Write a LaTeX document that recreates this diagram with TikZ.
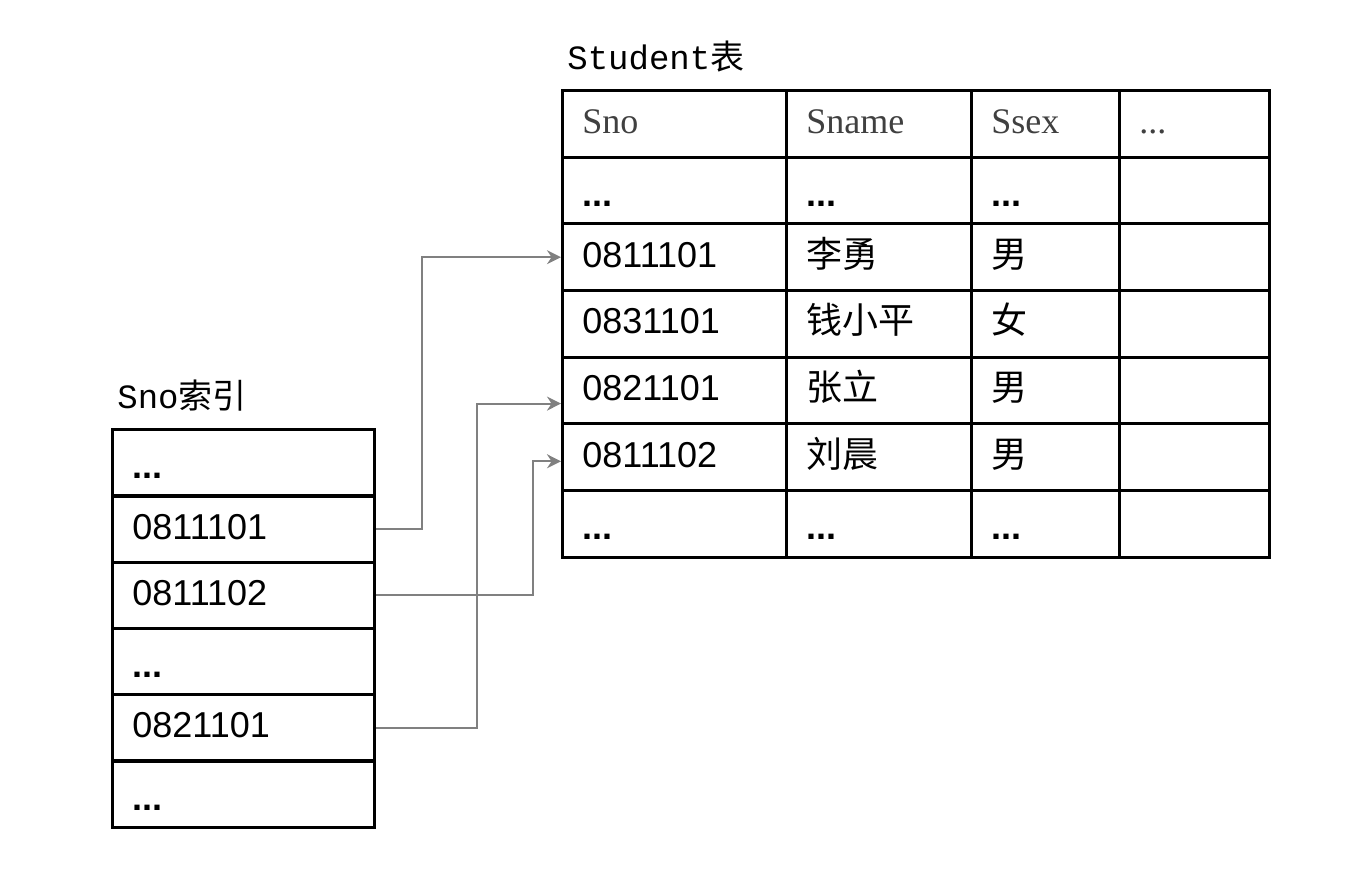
\documentclass[tikz,border=0pt]{standalone}
\usepackage{fontspec}
\setmainfont{Liberation Sans}
\newfontfamily\cjk{Noto Sans CJK SC}
\newfontfamily\hdfont{Liberation Serif}
\newfontfamily\capfont{Liberation Mono}
\usetikzlibrary{positioning,arrows.meta}
\newcommand{\dotsx}{\raisebox{-3pt}{\textbf{...}}}

\begin{document}
\begin{tikzpicture}
  [x=0.5pt, y=-0.5pt,
   cell/.style={draw, line width=1.4pt, rectangle, anchor=north west,
     minimum height=33.4pt, inner xsep=10pt, inner ysep=0pt, align=left,
     text height=13pt, text depth=3pt,
     font=\fontsize{18}{18}\selectfont},
   head/.style={font=\hdfont\fontsize{18}{18}\selectfont, text=black!75},
   caption/.style={inner sep=0pt, font=\capfont\fontsize{17}{17}\selectfont},
   link/.style={draw=black!50, line width=1pt, -{Stealth[length=7pt,width=7pt]}}]
  \useasboundingbox (0,0) rectangle (1366,870);

  % Student table
  \foreach \a/\b/\c/\d [count=\r from 0] in {
      {Sno}/{Sname}/{Ssex}/{...},
      {\dotsx}/{\dotsx}/{\dotsx}/{},
      0811101/{\cjk 李勇}/{\cjk 男}/{},
      0831101/{\cjk 钱小平}/{\cjk 女}/{},
      0821101/{\cjk 张立}/{\cjk 男}/{},
      0811102/{\cjk 刘晨}/{\cjk 男}/{},
      {\dotsx}/{\dotsx}/{\dotsx}/{}} {
    \ifnum\r=0 \tikzset{rowfont/.style={head}}\else\tikzset{rowfont/.style={}}\fi
    \node[cell, rowfont, text width=92pt]   (st-\r-1) at (561,89+66.7*\r)  {\a};
    \node[cell, rowfont, text width=72.5pt] (st-\r-2) at (785,89+66.7*\r)  {\b};
    \node[cell, rowfont, text width=54pt]   (st-\r-3) at (970,89+66.7*\r)  {\c};
    \node[cell, rowfont, text width=55pt]   (st-\r-4) at (1118,89+66.7*\r) {\d};
  }
  \node[caption, above right=8pt and 3pt of st-0-1.north west] (sttitle) {Student{\cjk 表}};

  % Sno index
  \foreach \k [count=\r from 0] in {\dotsx, 0811101, 0811102, \dotsx, 0821101, \dotsx}
    \node[cell, text width=111pt] (ix-\r) at (111,428+66.3*\r) {\k};
  \node[caption, above right=8pt and 3pt of ix-0.north west] (ixtitle) {Sno{\cjk 索引}};

  % pointers
  \draw[link] (ix-1.east) -- ++(46,0)  |- (st-2-1.west);
  \draw[link] (ix-2.east) -- ++(157,0) |- ([yshift=-2pt]st-5-1.west);
  \draw[link] (ix-4.east) -- ++(101,0) |- ([yshift=-6.5pt]st-4-1.west);
\end{tikzpicture}
\end{document}
